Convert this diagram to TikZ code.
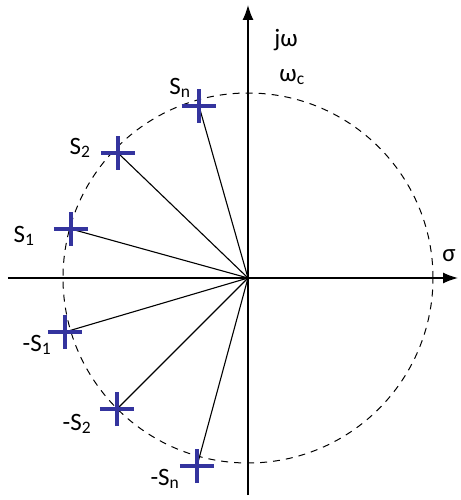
\documentclass[tikz,border=0pt]{standalone}
\usepackage{fontspec}
\setmainfont{Carlito}
\usetikzlibrary{arrows.meta}
\definecolor{poleblue}{RGB}{52,52,158}
\tikzset{polemark/.style={line width=3.5pt,draw=poleblue},axis/.style={line width=1.4pt,-{Latex[length=15pt,width=11pt]}}}

\begin{document}
\begin{tikzpicture}[x=1pt,y=1pt,font=\fontsize{25}{28}\selectfont]
\useasboundingbox (-248,-222) rectangle (212,278);
\coordinate (o) at (0,0);
\draw[line width=1pt,dash pattern=on 7pt off 6pt] (o) circle (185);
\coordinate (xl) at (-240,0);\coordinate (xr) at (210,0);
\coordinate (yb) at (0,-217);\coordinate (yt) at (0,273);
\draw[axis] (xl)--(xr);\draw[axis] (yb)--(yt);
\foreach \n/\x/\y in {sn/-49/172,s2/-130/125,s1/-177/49,ms1/-183/-54,ms2/-131/-131,msn/-51/-188}{
\coordinate (\n) at (\x,\y);
\draw[line width=1.1pt] (o)--(\n);
\draw[polemark] ([xshift=-17pt]\n)--([xshift=17pt]\n) ([yshift=-17pt]\n)--([yshift=17pt]\n);}
\node (lsn) at (-68,190){S\textsubscript{n}};
\node (ls2) at (-168,130){S\textsubscript{2}};
\node (ls1) at (-224,42){S\textsubscript{1}};
\node (lms1) at (-211,-67){-S\textsubscript{1}};
\node (lms2) at (-171,-146){-S\textsubscript{2}};
\node (lmsn) at (-83,-201){-S\textsubscript{n}};
\node (ljw) at (38,238){jω};
\node (lwc) at (44,201){ω\textsubscript{c}};
\node (ls) at (201,22){σ};
\end{tikzpicture}
\end{document}
